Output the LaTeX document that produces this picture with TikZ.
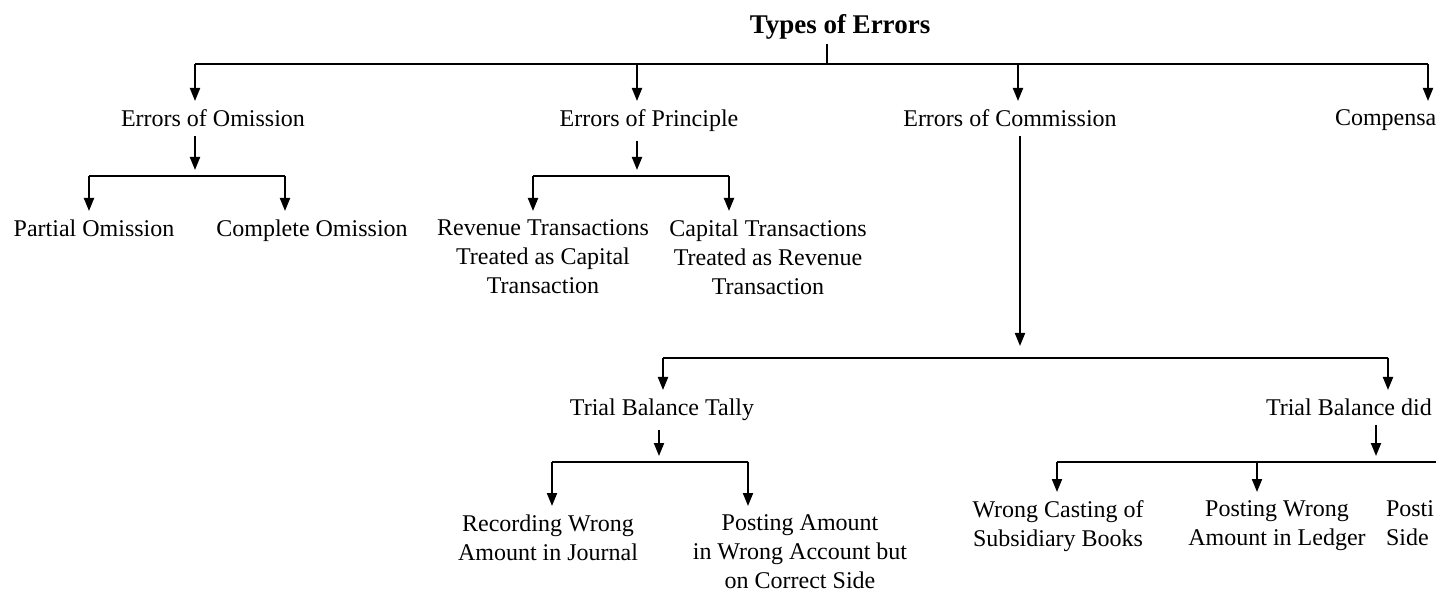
\documentclass[tikz,border=0pt]{standalone}
\usepackage{fontspec}
\setmainfont{Liberation Serif}
\usetikzlibrary{arrows.meta, positioning}
\tikzset{
    >={Triangle[width=5pt,length=6.5pt]}, % filled arrow heads
    item/.style={align=center, inner xsep=2pt, inner ysep=4pt, anchor=north, font=\fontsize{12}{14.5}\selectfont},
    cut/.style={item, anchor=north west, align=left}, % text running off the right edge
    head/.style={inner sep=2pt, font=\fontsize{13.5}{16}\selectfont\bfseries},
    link/.style={line width=1pt}
}

\begin{document}
\begin{tikzpicture}[x=0.5pt, y=-0.5pt, link]
        \useasboundingbox (0,0) rectangle (1436,593);

        % title and first level
        \node[head] (top) at (840,27) {Types of Errors};
        \node[item] (omis) at (213,101) {Errors of Omission};
        \node[item] (prin) at (649,101) {Errors of Principle};
        \node[item] (comm) at (1010,101) {Errors of Commission};
        \node[cut] (comp) at (1330,101) {Compensa};

        % second level
        \node[item] (part) at (94,211) {Partial Omission};
        \node[item] (cplt) at (312,211) {Complete Omission};
        \node[item] (rev) at (543,211) {Revenue Transactions\\Treated as Capital\\Transaction};
        \node[item] (cap) at (768,211) {Capital Transactions\\Treated as Revenue\\Transaction};
        \node[item] (tally) at (662,390) {Trial Balance Tally};
        \node[cut] (notally) at (1261,390) {Trial Balance did};

        % third level
        \node[item] (rec) at (548,506) {Recording Wrong\\Amount in Journal};
        \node[item] (pst) at (800,506) {Posting Amount\\in Wrong Account but\\on Correct Side};
        \node[item] (cast) at (1058,492) {Wrong Casting of\\Subsidiary Books};
        \node[item] (ldg) at (1277,492) {Posting Wrong\\Amount in Ledger};
        \node[cut] (side) at (1381,492) {Posti\\Side};

        % branch points
        \coordinate (t0) at (827,64);
        \coordinate (a1) at (195,64);
        \coordinate (a2) at (637,64);
        \coordinate (a3) at (1018,64);
        \coordinate (a4) at (1428,64);
        \coordinate (bo) at (195,176);
        \coordinate (bo1) at (89,176);
        \coordinate (bo2) at (285,176);
        \coordinate (bp) at (637,176);
        \coordinate (bp1) at (533,176);
        \coordinate (bp2) at (729,176);
        \coordinate (bc) at (1020,358);
        \coordinate (bc1) at (663,358);
        \coordinate (bc2) at (1388,358);
        \coordinate (bt) at (659,462);
        \coordinate (bt1) at (552,462);
        \coordinate (bt2) at (748,462);
        \coordinate (bn) at (1376,462);
        \coordinate (bn1) at (1057,462);
        \coordinate (bn2) at (1257,462);
        \coordinate (edge) at (1436,462);

        \draw (t0 |- top.south) -- (t0);
        \draw (a1) -- (a4);
        \draw[->] (a1) -- (a1 |- omis.north);
        \draw[->] (a2) -- (a2 |- prin.north);
        \draw[->] (a3) -- (a3 |- comm.north);
        \draw[->] (a4) -- (a4 |- comp.north);

        \draw[->] (bo |- omis.south) -- ([yshift=3pt]bo);
        \draw (bo1) -- (bo2);
        \draw[->] (bo1) -- (bo1 |- part.north);
        \draw[->] (bo2) -- (bo2 |- cplt.north);

        \draw[->] (bp |- prin.south) -- ([yshift=3pt]bp);
        \draw (bp1) -- (bp2);
        \draw[->] (bp1) -- (bp1 |- rev.north);
        \draw[->] (bp2) -- (bp2 |- cap.north);

        \draw[->] (bc |- comm.south) -- ([yshift=6pt]bc);
        \draw (bc1) -- (bc2);
        \draw[->] (bc1) -- (bc1 |- tally.north);
        \draw[->] (bc2) -- (bc2 |- notally.north);

        \draw[->] (bt |- tally.south) -- ([yshift=3pt]bt);
        \draw (bt1) -- (bt2);
        \draw[->] (bt1) -- (bt1 |- rec.north);
        \draw[->] (bt2) -- (bt2 |- pst.north);

        \draw[->] (bn |- notally.south) -- ([yshift=3pt]bn);
        \draw (bn1) -- (edge);
        \draw[->] (bn1) -- (bn1 |- cast.north);
        \draw[->] (bn2) -- (bn2 |- ldg.north);

    \end{tikzpicture}
\end{document}
